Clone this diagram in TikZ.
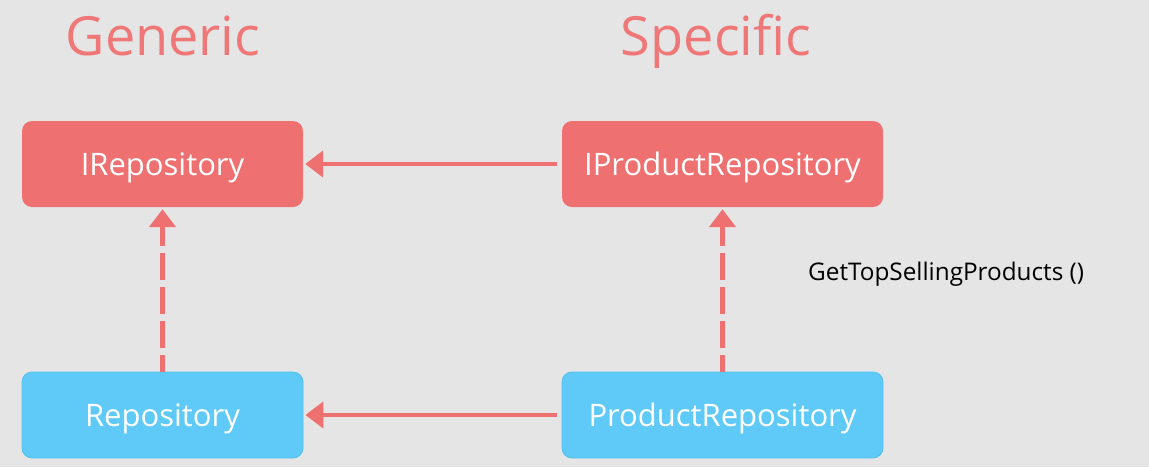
\documentclass[tikz,border=0pt]{standalone}
\usepackage{fontspec}
\setmainfont{Open Sans}
\usetikzlibrary{arrows.meta}
\definecolor{bgray}{HTML}{E5E5E5}
\definecolor{ired}{HTML}{EE7070}
\definecolor{cblue}{HTML}{5FCAF8}
\definecolor{cblueline}{HTML}{52BFEF}
\tikzset{
  box/.style={rounded corners=10pt, minimum width=281pt, minimum height=86pt, inner sep=0pt, text depth=0pt, text=white, font=\fontsize{31}{37}\selectfont},
  ibox/.style={box, fill=ired},
  cbox/.style={box, fill=cblue, draw=cblueline, line width=0.8pt},
  title/.style={text=ired!95!white, font=\fontsize{54}{64}\selectfont, inner sep=0pt, anchor=base},
  link/.style={ired, line width=4.5pt, -{Triangle[length=18pt,width=26pt]}},
  impl/.style={link, dash pattern=on 27pt off 7pt, dash phase=10pt}
}
\begin{document}
\begin{tikzpicture}[x=1pt,y=-1pt]
	\fill [bgray] (0,0) rectangle (1149,467);
	\useasboundingbox (0,0) rectangle (1149,467);
	\node [title] (generic) at (163,55) {Generic};
	\node [title] (specific) at (716,55) {Specific};
	\node [ibox, minimum width=281pt] (irepo) at (162.5,164) {IRepository};
	\node [ibox, minimum width=321pt] (iprod) at (722.5,164) {IProductRepository};
	\node [cbox, minimum width=281pt] (repo) at (162.5,415) {Repository};
	\node [cbox, minimum width=321pt] (prod) at (722.5,415) {ProductRepository};
	\draw [link, shorten <=5pt, shorten >=2pt] (iprod) -- (irepo);
	\draw [link, shorten <=5pt, shorten >=2pt] (prod) -- (repo);
	\draw [impl, shorten >=2pt] (repo) -- (irepo);
	\draw [impl, shorten >=2pt] (prod) -- (iprod);
	\node [anchor=base west, inner sep=0pt, font=\fontsize{24.3}{29}\selectfont] (method) at (808,280) {GetTopSellingProducts ()};
\end{tikzpicture}
\end{document}
